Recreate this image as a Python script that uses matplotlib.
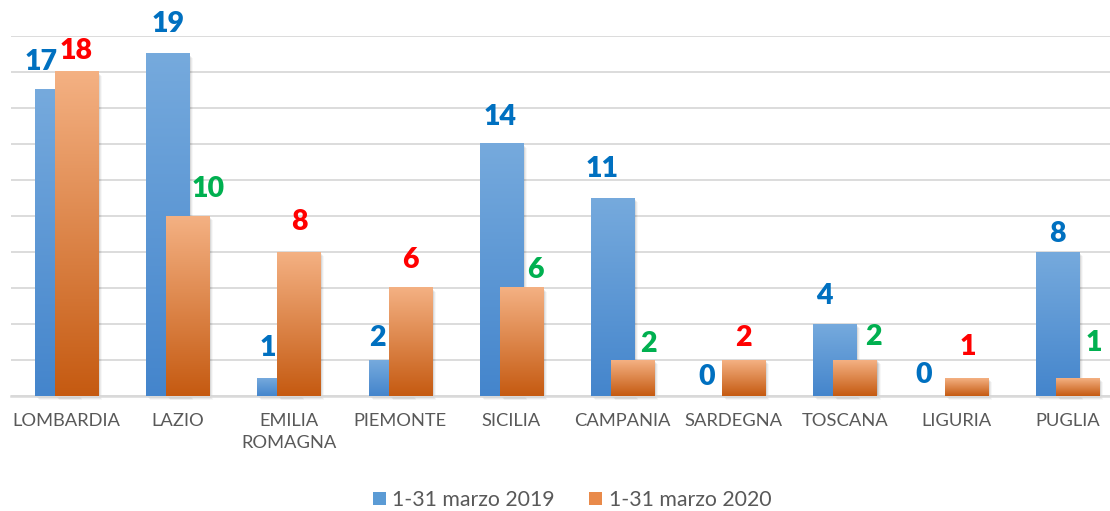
import numpy as np
import matplotlib
matplotlib.use("Agg")
import matplotlib.pyplot as plt
from matplotlib.colors import LinearSegmentedColormap
from matplotlib.patches import Patch, Rectangle

plt.rcParams['font.family'] = ['Lato', 'DejaVu Sans']

# data
regioni = ['LOMBARDIA', 'LAZIO', 'EMILIA\nROMAGNA', 'PIEMONTE', 'SICILIA',
           'CAMPANIA', 'SARDEGNA', 'TOSCANA', 'LIGURIA', 'PUGLIA']
marzo_2019 = [17, 19, 1, 2, 14, 11, 0, 4, 0, 8]
marzo_2020 = [18, 10, 8, 6, 6, 2, 2, 2, 1, 1]
serie = ['1-31 marzo 2019', '1-31 marzo 2020']

# label nudges in pixels (dx, dy above bar top), as placed in the original
off_2019 = [(-15, 28), (0, 30), (-11, 30), (-13, 22), (-1, 27),
            (-10, 29), (-17, 19), (-11, 28), (-22, 21), (0, 18)]
off_2020 = [(0, 21), (20, 27), (0, 30), (0, 28), (14, 18),
            (16, 16), (0, 22), (18, 23), (2, 31), (16, 35)]

blu = LinearSegmentedColormap.from_list('blu', ['#4485CC', '#76AADD'])
arancio = LinearSegmentedColormap.from_list('arancio', ['#C55A11', '#F4B183'])
grad = np.linspace(0, 1, 256).reshape(-1, 1)

W, H = 1110, 511
fig = plt.figure(figsize=(W / 100, H / 100), dpi=100)
ax = fig.add_axes([10.9 / W, (H - 396) / H, (1123 - 10.9) / W, 360 / H])

x = np.arange(len(regioni))
bw = 0.387
shift = 0.09
px_x = 1 / 111.2
px_y = 1 / 18.0


def draw_bar(xc, h, cmap):
    x0, x1 = xc - bw / 2, xc + bw / 2
    if h <= 0:
        return
    # soft shadow
    for k, a in [(1, 0.10), (2, 0.07), (3, 0.05), (4, 0.03)]:
        ax.add_patch(Rectangle((x0 + k * px_x, -k * px_y), bw, h, color='k',
                               alpha=a, lw=0, zorder=2, clip_on=False))
    ax.imshow(grad, extent=[x0, x1, 0, h], origin='lower', cmap=cmap,
              aspect='auto', zorder=3, interpolation='bilinear')


for i in x:
    draw_bar(i - shift, marzo_2019[i], blu)
for i in x:
    draw_bar(i + shift, marzo_2020[i], arancio)

for i in x:
    ax.annotate(str(marzo_2019[i]), (i - shift, marzo_2019[i]),
                xytext=off_2019[i], textcoords='offset pixels',
                ha='center', va='center', fontsize=20.5, fontweight='heavy',
                color='#0070C0', annotation_clip=False, zorder=5)
    c = '#00B050' if marzo_2020[i] < marzo_2019[i] else '#FF0000'
    ax.annotate(str(marzo_2020[i]), (i + shift, marzo_2020[i]),
                xytext=off_2020[i], textcoords='offset pixels',
                ha='center', va='center', fontsize=20.5, fontweight='heavy',
                color=c, annotation_clip=False, zorder=5)

ax.set_xlim(-0.5, len(regioni) - 0.5)
ax.set_ylim(0, 20)
ax.set_yticks(np.arange(0, 21, 2))
ax.set_yticklabels([])
ax.grid(axis='y', color='#D9D9D9', lw=1.3, zorder=0)
ax.set_axisbelow(True)
ax.set_xticks(x)
ax.set_xticklabels(regioni, fontsize=13.2, color='#595959', linespacing=1.45)
ax.tick_params(length=0, pad=12)
for s in ['top', 'right', 'left']:
    ax.spines[s].set_visible(False)
ax.spines['bottom'].set_color('#D9D9D9')
ax.spines['bottom'].set_linewidth(1.8)

handles = [Patch(facecolor='#5B9BD5', edgecolor='none'),
           Patch(facecolor='#E98A4A', edgecolor='none')]
fig.legend(handles, serie, loc='center', bbox_to_anchor=(572 / W, 11 / H),
           ncol=2, frameon=False, fontsize=15.3, labelcolor='#595959',
           handlelength=0.62, handleheight=0.62, handletextpad=0.3,
           columnspacing=1.6)

fig.savefig('out.png', dpi=100)
